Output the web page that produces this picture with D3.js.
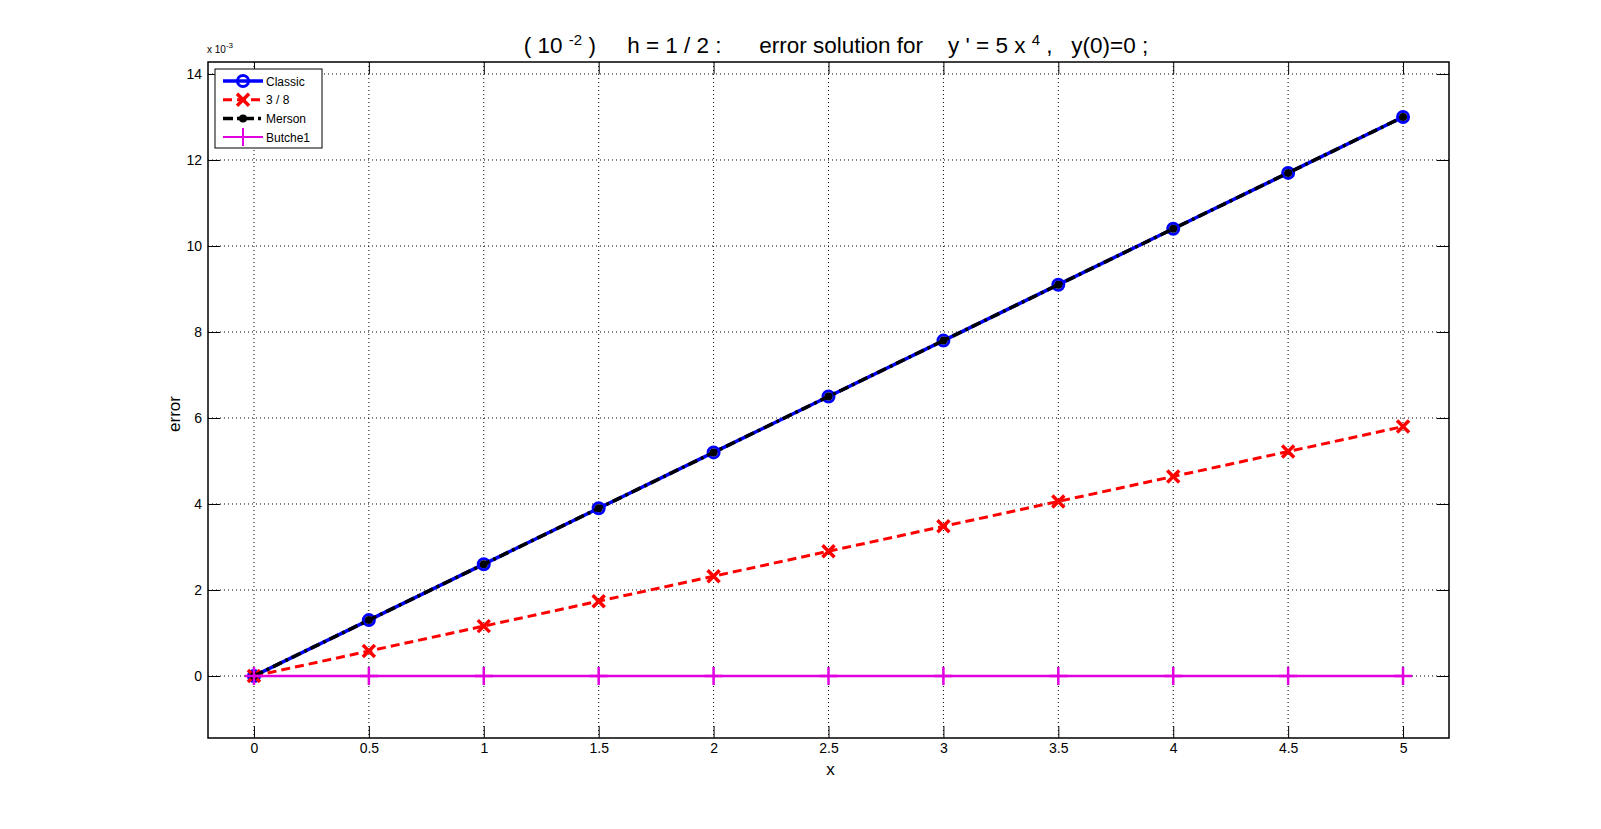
<!DOCTYPE html>
<html>
<head>
<meta charset="utf-8">
<script src="https://cdn.jsdelivr.net/npm/d3@7"></script>
<style>
  body { margin: 0; background: #fff; }
  svg text { font-family: "Liberation Sans", Arial, sans-serif; }
</style>
</head>
<body>
<script>
// data (error values are in units of 10^-3)
var xs = [0, 0.5, 1, 1.5, 2, 2.5, 3, 3.5, 4, 4.5, 5];
var classic = [0, 1.3, 2.6, 3.9, 5.2, 6.5, 7.8, 9.1, 10.4, 11.7, 13.0];
var threeEighths = [0, 0.58, 1.16, 1.74, 2.32, 2.9, 3.48, 4.06, 4.64, 5.22, 5.8];
var merson = [0, 1.3, 2.6, 3.9, 5.2, 6.5, 7.8, 9.1, 10.4, 11.7, 13.0];
var butcher = [0, 0, 0, 0, 0, 0, 0, 0, 0, 0, 0];
var xTicks = [0, 0.5, 1, 1.5, 2, 2.5, 3, 3.5, 4, 4.5, 5];
var yTicks = [0, 2, 4, 6, 8, 10, 12, 14];
var seriesNames = ["Classic", " 3 / 8", "Merson", "Butche1"];

var W = 1601, H = 829;
var box = { left: 208, top: 62, right: 1449, bottom: 738 };

var svg = d3.select("body").append("svg")
    .attr("width", W)
    .attr("height", H);

var x = d3.scaleLinear().domain([-0.2, 5.2]).range([box.left, box.right]);
var y = d3.scaleLinear().domain([-1.442, 14.279]).range([box.bottom, box.top]);

// grid (dotted)
svg.append("g").selectAll("line").data(xTicks).enter().append("line")
    .attr("x1", function (d) { return x(d); }).attr("x2", function (d) { return x(d); })
    .attr("y1", box.top).attr("y2", box.bottom)
    .attr("stroke", "#000").attr("stroke-width", 1).attr("stroke-dasharray", "1,3");
svg.append("g").selectAll("line").data(yTicks).enter().append("line")
    .attr("y1", function (d) { return y(d); }).attr("y2", function (d) { return y(d); })
    .attr("x1", box.left).attr("x2", box.right)
    .attr("stroke", "#000").attr("stroke-width", 1).attr("stroke-dasharray", "1,3");

// axes with inward ticks on all sides
var tl = 12;
svg.append("g").attr("transform", "translate(0," + box.bottom + ")")
    .call(d3.axisBottom(x).tickValues(xTicks).tickSizeInner(-tl).tickSizeOuter(0).tickPadding(5)
        .tickFormat(function (d) { return d; }))
    .call(function (g) { g.select(".domain").remove(); });
svg.append("g").attr("transform", "translate(0," + box.top + ")")
    .call(d3.axisTop(x).tickValues(xTicks).tickSizeInner(-tl).tickSizeOuter(0).tickFormat(""))
    .call(function (g) { g.select(".domain").remove(); });
svg.append("g").attr("transform", "translate(" + box.left + ",0)")
    .call(d3.axisLeft(y).tickValues(yTicks).tickSizeInner(-tl).tickSizeOuter(0).tickPadding(6))
    .call(function (g) { g.select(".domain").remove(); });
svg.append("g").attr("transform", "translate(" + box.right + ",0)")
    .call(d3.axisRight(y).tickValues(yTicks).tickSizeInner(-tl).tickSizeOuter(0).tickFormat(""))
    .call(function (g) { g.select(".domain").remove(); });
svg.selectAll(".tick text").style("font-size", "14px").attr("fill", "#000")
    .style("font-family", "Liberation Sans, Arial, sans-serif");
svg.selectAll(".tick line").attr("stroke", "#000");

svg.append("rect")
    .attr("x", box.left).attr("y", box.top)
    .attr("width", box.right - box.left).attr("height", box.bottom - box.top)
    .attr("fill", "none").attr("stroke", "#000").attr("stroke-width", 1.5);

// exponent label
var ex = svg.append("text").attr("x", 207).attr("y", 53).attr("font-size", 10);
ex.append("tspan").text("x 10");
ex.append("tspan").attr("dy", -5).attr("font-size", 8).text("-3");

// series
var line = d3.line()
    .x(function (d, i) { return x(xs[i]); })
    .y(function (d) { return y(d); });

var plot = svg.append("g");

plot.append("path").datum(classic).attr("d", line)
    .attr("fill", "none").attr("stroke", "#0000ff").attr("stroke-width", 3.5);
plot.selectAll(".cm").data(classic).enter().append("circle")
    .attr("cx", function (d, i) { return x(xs[i]); })
    .attr("cy", function (d) { return y(d); })
    .attr("r", 5.5).attr("fill", "none").attr("stroke", "#0000ff").attr("stroke-width", 3);

plot.append("path").datum(threeEighths).attr("d", line)
    .attr("fill", "none").attr("stroke", "#ff0000").attr("stroke-width", 3)
    .attr("stroke-dasharray", "9,5");
plot.selectAll(".xm").data(threeEighths).enter().append("path")
    .attr("transform", function (d, i) { return "translate(" + x(xs[i]) + "," + y(d) + ")"; })
    .attr("d", "M-6,-6L6,6M-6,6L6,-6")
    .attr("stroke", "#ff0000").attr("stroke-width", 3.5);

plot.append("path").datum(merson).attr("d", line)
    .attr("fill", "none").attr("stroke", "#000").attr("stroke-width", 3.5)
    .attr("stroke-dasharray", "10,4,3,4");
plot.selectAll(".mm").data(merson).enter().append("circle")
    .attr("cx", function (d, i) { return x(xs[i]); })
    .attr("cy", function (d) { return y(d); })
    .attr("r", 4).attr("fill", "#000");

plot.append("path").datum(butcher).attr("d", line)
    .attr("fill", "none").attr("stroke", "#e000e0").attr("stroke-width", 2.5);
plot.selectAll(".pm").data(butcher).enter().append("path")
    .attr("transform", function (d, i) { return "translate(" + x(xs[i]) + "," + y(d) + ")"; })
    .attr("d", "M0,-9L0,9M-9,0L9,0")
    .attr("stroke", "#e000e0").attr("stroke-width", 2.5);

// titles
var title = svg.append("text").attr("x", 836).attr("y", 53)
    .attr("text-anchor", "middle").attr("font-size", 22.5).attr("xml:space", "preserve");
title.append("tspan").text("( 10 ");
title.append("tspan").attr("dy", -8).attr("font-size", 15).text("-2");
title.append("tspan").attr("dy", 8).text(" )     h = 1 / 2 :      error solution for    y ' = 5 x ");
title.append("tspan").attr("dy", -8).attr("font-size", 15).text("4");
title.append("tspan").attr("dy", 8).text(" ,   y(0)=0 ;");

svg.append("text").attr("x", x(2.5) + 2).attr("y", 775)
    .attr("text-anchor", "middle").attr("font-size", 17).text("x");
svg.append("text")
    .attr("transform", "translate(180,414) rotate(-90)")
    .attr("text-anchor", "middle").attr("font-size", 17).text("error");

// legend
var lg = svg.append("g").attr("transform", "translate(215,69)");
lg.append("rect").attr("width", 107).attr("height", 79)
    .attr("fill", "#fff").attr("stroke", "#000").attr("stroke-width", 1);
var rows = lg.selectAll(".row").data(seriesNames).enter().append("g")
    .attr("transform", function (d, i) { return "translate(0," + (12 + i * 18.7) + ")"; });
rows.append("text").attr("x", 51).attr("y", 4.5).attr("font-size", 12).text(function (d) { return d; });

var r0 = d3.select(rows.nodes()[0]);
r0.append("line").attr("x1", 8).attr("x2", 48).attr("stroke", "#0000ff").attr("stroke-width", 3.5);
r0.append("circle").attr("cx", 28).attr("r", 5.5).attr("fill", "none").attr("stroke", "#0000ff").attr("stroke-width", 3);
var r1 = d3.select(rows.nodes()[1]);
r1.append("line").attr("x1", 8).attr("x2", 48).attr("stroke", "#ff0000").attr("stroke-width", 3).attr("stroke-dasharray", "9,5");
r1.append("path").attr("d", "M22,-6L34,6M22,6L34,-6").attr("stroke", "#ff0000").attr("stroke-width", 3.5);
var r2 = d3.select(rows.nodes()[2]);
r2.append("line").attr("x1", 8).attr("x2", 48).attr("stroke", "#000").attr("stroke-width", 3.5).attr("stroke-dasharray", "10,4,3,4");
r2.append("circle").attr("cx", 28).attr("r", 4).attr("fill", "#000");
var r3 = d3.select(rows.nodes()[3]);
r3.append("line").attr("x1", 8).attr("x2", 48).attr("stroke", "#e000e0").attr("stroke-width", 2);
r3.append("path").attr("d", "M28,-9L28,9").attr("stroke", "#e000e0").attr("stroke-width", 2);
</script>
</body>
</html>
